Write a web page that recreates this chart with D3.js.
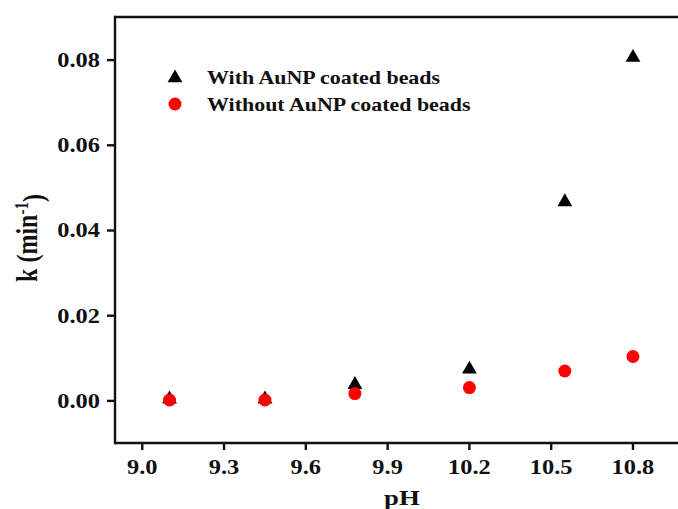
<!DOCTYPE html>
<html>
<head>
<meta charset="utf-8">
<script src="https://cdn.jsdelivr.net/npm/d3@7"></script>
<style>
  html, body { margin: 0; padding: 0; background: #fff; overflow: hidden; }
  svg { display: block; }
  svg text { font-family: "Liberation Serif", "Times New Roman", serif; font-weight: bold; fill: #111; }
</style>
</head>
<body>
<svg id="chart" width="678" height="509"></svg>
<script>
// ---- data ----
const pH = [9.1, 9.45, 9.78, 10.2, 10.55, 10.8];
const kWith = [0.0003, 0.0003, 0.0037, 0.0073, 0.0466, 0.0805];
const kWithout = [0.0001, 0.0001, 0.0016, 0.0030, 0.0069, 0.0103];
const xTicks = [9.0, 9.3, 9.6, 9.9, 10.2, 10.5, 10.8];
const yTicks = [0.00, 0.02, 0.04, 0.06, 0.08];
const seriesNames = ["With AuNP coated beads", "Without AuNP coated beads"];
const xLabel = "pH";

const SX = 1.22; // horizontal text stretch seen in reference
const svg = d3.select("#chart");
const m = { left: 115, top: 17, bottom: 443 };

const x = d3.scaleLinear().domain([8.9, 11.0]).range([m.left, m.left + 572.5]);
const y = d3.scaleLinear().domain([-0.01, 0.09]).range([m.bottom, m.top]);

// frame (top, left, bottom; right side lies outside the picture)
const frame = svg.append("g").attr("stroke", "#111").attr("stroke-width", 2.4).attr("fill", "none");
frame.append("line").attr("x1", x(8.9)).attr("x2", x(11.0)).attr("y1", y(0.09)).attr("y2", y(0.09));
frame.append("line").attr("x1", x(8.9)).attr("x2", x(11.0)).attr("y1", y(-0.01)).attr("y2", y(-0.01));
frame.append("line").attr("x1", x(8.9)).attr("x2", x(8.9)).attr("y1", y(0.09) - 1.2).attr("y2", y(-0.01) + 1.2);

// y axis
const yAxis = svg.append("g").attr("transform", `translate(${m.left},0)`)
  .call(d3.axisLeft(y).tickValues(yTicks).tickFormat(d3.format(".2f")).tickSize(8).tickSizeOuter(0));
yAxis.select(".domain").remove();
yAxis.selectAll(".tick line").attr("stroke", "#111").attr("stroke-width", 2.4);
yAxis.selectAll(".tick text")
  .attr("x", -15 / SX).attr("dy", "0.34em")
  .attr("transform", `scale(${SX},1)`)
  .style("font-size", "20px");

// x axis
const xAxis = svg.append("g").attr("transform", `translate(0,${m.bottom})`)
  .call(d3.axisBottom(x).tickValues(xTicks).tickFormat(d3.format(".1f")).tickSize(7).tickSizeOuter(0));
xAxis.select(".domain").remove();
xAxis.selectAll(".tick line").attr("stroke", "#111").attr("stroke-width", 2.4);
xAxis.selectAll(".tick").each(function(d) {
  const g = d3.select(this);
  g.attr("transform", null);
  g.select("line").attr("transform", `translate(${x(d)},0)`);
  g.select("text")
    .attr("x", x(d) / SX).attr("y", 31).attr("dy", 0)
    .attr("transform", `scale(${SX},1)`)
    .style("font-size", "20px");
});

// axis titles
svg.append("text")
  .attr("transform", `translate(${402},${505}) scale(${SX},1)`)
  .attr("text-anchor", "middle")
  .style("font-size", "22px")
  .text(xLabel);

const yl = svg.append("text")
  .attr("transform", `translate(37,238) rotate(-90) scale(1,${SX})`)
  .attr("text-anchor", "middle")
  .style("font-size", "24px");
yl.append("tspan").text("k (min");
yl.append("tspan").attr("dy", "-0.5em").style("font-size", "15px").text("-1");
yl.append("tspan").attr("dy", "0.5em").text(")");

// markers
const tri = d3.symbol().type(d3.symbolTriangle).size(95);
svg.append("g").selectAll("path").data(pH).join("path")
  .attr("d", tri)
  .attr("transform", (d, i) => `translate(${x(d)},${y(kWith[i])})`)
  .attr("fill", "#000");
svg.append("g").selectAll("circle").data(pH).join("circle")
  .attr("cx", d => x(d)).attr("cy", (d, i) => y(kWithout[i]))
  .attr("r", 6.5).attr("fill", "#f00");

// legend
const lg = svg.append("g");
lg.append("path").attr("d", tri).attr("transform", "translate(175,78)").attr("fill", "#000");
lg.append("circle").attr("cx", 175).attr("cy", 104).attr("r", 6.5).attr("fill", "#f00");
lg.selectAll("text").data(seriesNames).join("text")
  .attr("transform", (d, i) => `translate(207,${84 + i * 27}) scale(${SX},1)`)
  .style("font-size", "18px")
  .text(d => d);
</script>
</body>
</html>
